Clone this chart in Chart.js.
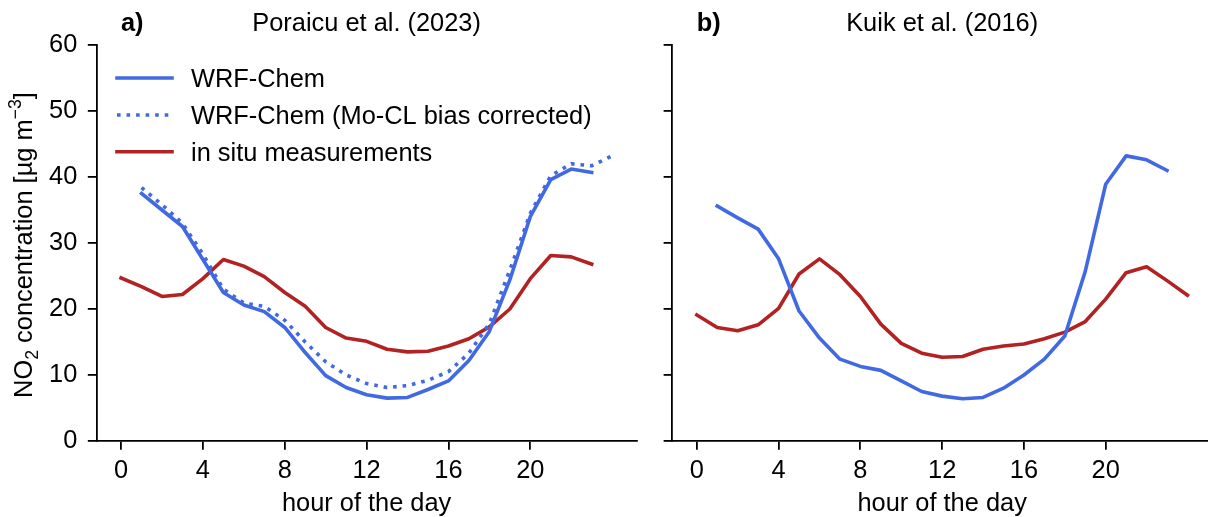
<!DOCTYPE html>
<html>
<head>
<meta charset="utf-8">
<script src="https://cdn.jsdelivr.net/npm/chart.js@4.4.1/dist/chart.umd.min.js"></script>
<style>
  html, body { margin: 0; padding: 0; background: #fff; width: 1208px; height: 517px; overflow: hidden; position: relative; }
  canvas { position: absolute; top: 0; }
  #panelA { left: 0; }
  #panelB { left: 644px; }
</style>
</head>
<body>
<canvas id="panelA" width="644" height="517"></canvas>
<canvas id="panelB" width="572" height="517"></canvas>
<script>
// Hour of the day (0..24)
const hours = [0,1,2,3,4,5,6,7,8,9,10,11,12,13,14,15,16,17,18,19,20,21,22,23,24];

// Poraicu et al. (2023): diurnal NO2 cycle, µg m-3
const poraicuWrf          = [null,37.5,35.0,32.5,27.5,22.5,20.6,19.6,17.2,13.4,9.9,8.1,7.0,6.5,6.6,7.8,9.1,12.2,16.6,24.4,34.0,39.6,41.2,40.7,null];
const poraicuWrfCorrected = [null,38.4,35.8,33.0,28.3,23.0,20.9,20.4,18.3,15.0,12.0,10.0,8.7,8.1,8.4,9.2,10.5,13.3,17.8,25.9,34.5,40.2,42.0,41.7,43.2];
const poraicuInSitu       = [24.7,23.4,21.9,22.2,24.6,27.5,26.5,24.9,22.5,20.4,17.2,15.6,15.1,13.9,13.5,13.6,14.4,15.5,17.3,20.0,24.6,28.1,27.9,26.8,null];

// Kuik et al. (2016): diurnal NO2 cycle, µg m-3
const kuikWrf    = [null,35.6,33.8,32.1,27.6,19.7,15.6,12.4,11.3,10.7,9.1,7.5,6.8,6.4,6.6,8.0,10.0,12.4,15.9,25.7,38.9,43.2,42.6,41.0,null];
const kuikInSitu = [19.1,17.2,16.7,17.6,20.1,25.3,27.6,25.2,21.9,17.7,14.8,13.3,12.7,12.8,13.9,14.4,14.7,15.5,16.5,18.1,21.5,25.5,26.4,24.3,22.1];

// Axis ticks
const xTickValues = [0, 4, 8, 12, 16, 20];
const yTickValues = [0, 10, 20, 30, 40, 50, 60];

const FONT = "'Liberation Sans', Arial, Helvetica, sans-serif";
const FS = 25.4;
const BLUE = '#4169e1';
const RED = '#b22222';
const LW = 3.6;

function toPoints(values) {
  const pts = [];
  values.forEach((v, i) => { if (v !== null) pts.push({ x: hours[i], y: v }); });
  return pts;
}

function series(label, values, color, dotted) {
  return {
    label: label,
    data: toPoints(values),
    borderColor: color,
    backgroundColor: color,
    borderWidth: LW,
    borderDash: dotted ? [LW, LW * 1.65] : [],
    borderCapStyle: dotted ? 'butt' : 'square',
    borderJoinStyle: 'round',
    pointRadius: 0,
    tension: 0,
    fill: false
  };
}

// Panel letter, centred title and x-axis title
const panelTextPlugin = {
  id: 'panelText',
  afterDraw(chart, args, opts) {
    const ctx = chart.ctx;
    const area = chart.chartArea;
    ctx.save();
    ctx.fillStyle = '#000';
    ctx.textBaseline = 'alphabetic';
    ctx.font = 'bold ' + FS + 'px ' + FONT;
    ctx.textAlign = 'left';
    ctx.fillText(opts.tag, area.left + 24.5, 30.7);
    ctx.font = FS + 'px ' + FONT;
    ctx.textAlign = 'center';
    const cx = (area.left + area.right) / 2;
    ctx.fillText(opts.title, cx, 30.7);
    ctx.fillText(opts.xTitle, cx, 511);
    ctx.restore();
  }
};

// Rotated y-axis title with subscript and superscript
const yTitlePlugin = {
  id: 'yTitle',
  afterDraw(chart, args, opts) {
    if (!opts.show) return;
    const ctx = chart.ctx;
    const area = chart.chartArea;
    const small = FS * 0.7;
    const parts = [
      { t: 'NO', size: FS, dy: 0 },
      { t: '2', size: small, dy: 6 },
      { t: ' concentration [µg m', size: FS, dy: 0 },
      { t: '\u22123', size: small, dy: -11 },
      { t: ']', size: FS, dy: 0 }
    ];
    ctx.save();
    let total = 0;
    parts.forEach(p => { ctx.font = p.size + 'px ' + FONT; p.w = ctx.measureText(p.t).width; total += p.w; });
    ctx.translate(31.7, (area.top + area.bottom) / 2 + 2);
    ctx.rotate(-Math.PI / 2);
    ctx.fillStyle = '#000';
    ctx.textAlign = 'left';
    ctx.textBaseline = 'alphabetic';
    let x = -total / 2;
    parts.forEach(p => {
      ctx.font = p.size + 'px ' + FONT;
      ctx.fillText(p.t, x, p.dy);
      x += p.w;
    });
    ctx.restore();
  }
};

// Legend drawn inside the plot area from the dataset styles
const innerLegendPlugin = {
  id: 'innerLegend',
  afterDraw(chart, args, opts) {
    if (!opts.show) return;
    const ctx = chart.ctx;
    const x0 = 117, x1 = 172, tx = 191;
    const rows = [78, 115, 151.7];
    ctx.save();
    chart.data.datasets.forEach((ds, i) => {
      const y = rows[i];
      ctx.beginPath();
      ctx.strokeStyle = ds.borderColor;
      ctx.lineWidth = ds.borderWidth;
      ctx.lineCap = ds.borderCapStyle;
      ctx.setLineDash(ds.borderDash);
      ctx.moveTo(x0, y);
      ctx.lineTo(x1, y);
      ctx.stroke();
      ctx.setLineDash([]);
      ctx.fillStyle = '#000';
      ctx.font = FS + 'px ' + FONT;
      ctx.textAlign = 'left';
      ctx.textBaseline = 'alphabetic';
      ctx.fillText(ds.label, tx, y + 9.2);
    });
    ctx.restore();
  }
};

function makePanel(canvasId, datasets, cfg) {
  return new Chart(document.getElementById(canvasId), {
    type: 'line',
    data: { datasets: datasets },
    plugins: [panelTextPlugin, yTitlePlugin, innerLegendPlugin],
    options: {
      responsive: false,
      animation: false,
      events: [],
      layout: { padding: { top: 45, right: cfg.padRight, left: 0, bottom: 0 } },
      plugins: {
        legend: { display: false },
        tooltip: { enabled: false },
        title: { display: false },
        panelText: { tag: cfg.tag, title: cfg.title, xTitle: 'hour of the day' },
        yTitle: { show: cfg.showYTitle },
        innerLegend: { show: cfg.showLegend }
      },
      scales: {
        x: {
          type: 'linear',
          min: -1.2,
          max: 25.2,
          afterBuildTicks: s => { s.ticks = xTickValues.map(v => ({ value: v })); },
          afterFit: s => { s.height = 76; },
          grid: { drawOnChartArea: false, drawTicks: true, tickLength: 8.7, color: '#000', lineWidth: 1.8 },
          border: { display: true, color: '#000', width: 1.8 },
          ticks: { color: '#000', font: { family: FONT, size: FS }, padding: 6, maxRotation: 0, autoSkip: false }
        },
        y: {
          type: 'linear',
          min: 0,
          max: 60,
          afterBuildTicks: s => { s.ticks = yTickValues.map(v => ({ value: v })); },
          afterFit: s => { s.width = cfg.yWidth; },
          grid: { drawOnChartArea: false, drawTicks: true, tickLength: 8.7, color: '#000', lineWidth: 1.8 },
          border: { display: true, color: '#000', width: 1.8 },
          ticks: {
            color: '#000',
            font: { family: FONT, size: FS },
            padding: 10.5,
            callback: v => cfg.showYLabels ? String(v) : ''
          }
        }
      }
    }
  });
}

makePanel('panelA', [
  series('WRF-Chem', poraicuWrf, BLUE, false),
  series('WRF-Chem (Mo-CL bias corrected)', poraicuWrfCorrected, BLUE, true),
  series('in situ measurements', poraicuInSitu, RED, false)
], { tag: 'a)', title: 'Poraicu et al. (2023)', padRight: 7.3, yWidth: 96.5, showYLabels: true, showYTitle: true, showLegend: true });

makePanel('panelB', [
  series('WRF-Chem', kuikWrf, BLUE, false),
  series('in situ measurements', kuikInSitu, RED, false)
], { tag: 'b)', title: 'Kuik et al. (2016)', padRight: 4, yWidth: 28.3, showYLabels: false, showYTitle: false, showLegend: false });
</script>
</body>
</html>
